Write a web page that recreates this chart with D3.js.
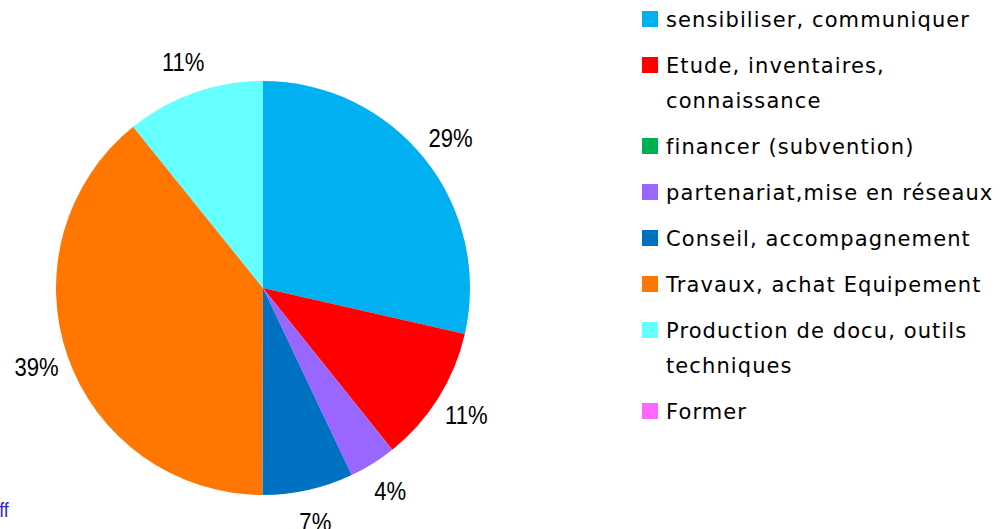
<!DOCTYPE html>
<html>
<head>
<meta charset="utf-8">
<script src="https://cdn.jsdelivr.net/npm/d3@7"></script>
<style>
  html, body { margin: 0; padding: 0; background: #fff; }
  svg { display: block; }
</style>
</head>
<body>
<svg class="chart"></svg>
<script>
// categories in drawing order (clockwise from 12 o'clock)
const categories = [
    ['sensibiliser, communiquer'],
    ['Etude, inventaires,', 'connaissance'],
    ['financer (subvention)'],
    ['partenariat,mise en réseaux'],
    ['Conseil, accompagnement'],
    ['Travaux, achat Equipement'],
    ['Production de docu, outils', 'techniques'],
    ['Former'],
];
const values = [28.6, 10.7, 0, 3.7, 7.1, 39.2, 10.8, 0];
const colors = ['#00b0f0', '#ff0000', '#00b050', '#9966ff', '#0070c0', '#ff7700', '#66ffff', '#ff66ff'];

const width = 1000;
const height = 529;
const cx = 263, cy = 288;
const radius = 207;
const labelRadius = 240;

const svg = d3.select('.chart')
    .attr('width', width)
    .attr('height', height)
    .attr('viewBox', [0, 0, width, height]);

const total = d3.sum(values);
const pie = d3.pie().sort(null).value(d => d);
const arcs = pie(values);
const arc = d3.arc().innerRadius(0).outerRadius(radius);
const labelArc = d3.arc().innerRadius(labelRadius).outerRadius(labelRadius);

const g = svg.append('g')
    .attr('transform', `translate(${cx},${cy})`);

g.selectAll('path')
    .data(arcs)
    .join('path')
        .attr('fill', (d, i) => colors[i])
        .attr('d', arc);

// percentage labels, skip empty slices (condensed look via horizontal squeeze)
g.selectAll('text')
    .data(arcs.filter(d => d.value > 0))
    .join('text')
        .attr('transform', d => `translate(${labelArc.centroid(d)}) scale(0.85,1)`)
        .attr('text-anchor', 'middle')
        .attr('dy', '0.34em')
        .attr('font-family', 'Liberation Sans, Arial, sans-serif')
        .attr('font-size', 26)
        .attr('fill', '#000')
        .text(d => Math.round(d.value / total * 100) + '%');

// legend
const itemGap = 46, lineGap = 35;
let yPos = 20;
const legend = svg.append('g')
    .attr('font-family', 'DejaVu Sans, Verdana, sans-serif')
    .attr('font-size', 21)
    .attr('letter-spacing', 1.1)
    .attr('fill', '#000');

categories.forEach((lines, i) => {
    legend.append('rect')
        .attr('x', 642)
        .attr('y', yPos - 9)
        .attr('width', 16)
        .attr('height', 16)
        .attr('fill', colors[i]);
    lines.forEach((line, j) => {
        legend.append('text')
            .attr('x', 666)
            .attr('y', yPos + j * lineGap)
            .attr('dominant-baseline', 'central')
            .text(line);
    });
    yPos += itemGap + (lines.length - 1) * lineGap;
});

// fragment of a neighbouring figure cut at the left edge
svg.append('text')
    .attr('x', -1)
    .attr('y', 517)
    .attr('transform', 'scale(0.85,1)')
    .attr('font-family', 'Liberation Sans, sans-serif')
    .attr('font-size', 21)
    .attr('fill', '#2a2ad0')
    .text('ff');
</script>
</body>
</html>
